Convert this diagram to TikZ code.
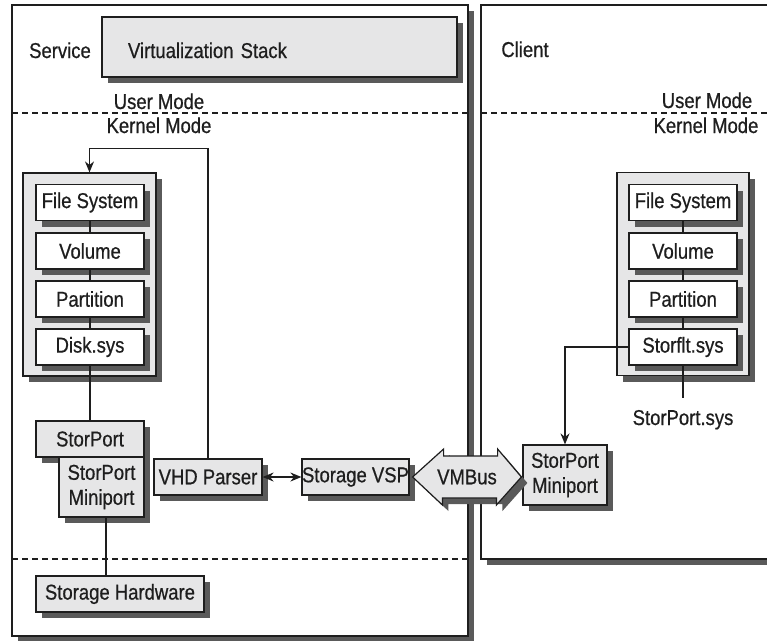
\documentclass[tikz,border=0pt]{standalone}
\usepackage{fontspec}
\setmainfont{Liberation Sans}[FakeStretch=0.86, FakeBold=0.6]
\usetikzlibrary{arrows.meta,shadows,calc}
\definecolor{panel}{HTML}{E6E6E7}
\definecolor{shade}{HTML}{5A5A5A}
\definecolor{ink}{HTML}{1E1E1E}
\begin{document}
\begin{tikzpicture}[x=1pt, y=-1pt, >={Stealth[length=11pt,width=9pt]},
    lbl/.style={font=\fontsize{21.5}{25}\selectfont, text=ink, inner sep=0pt},
    shade6/.style={general shadow={fill=shade, shadow xshift=6pt, shadow yshift=-6pt}},
    layer/.style={lbl, draw=ink, line width=1.2pt, fill=white, shade6,
        minimum width=108, minimum height=36, align=center},
    graybox/.style={layer, fill=panel},
    link/.style={draw=ink, line width=1.5pt},
    modeline/.style={draw=ink, line width=1.2pt, dash pattern=on 6pt off 4pt}]
    \clip (0,0) rectangle (767,640);
    % Service and Client partitions
    \draw[draw=ink, line width=1.2pt, fill=white, shade6] (12,5) rectangle (468,636);
    \draw[draw=ink, line width=1.2pt, fill=white, shade6] (481,5) rectangle (800,559);
    \draw[modeline] (12,113) -- (468,113);
    \draw[modeline] (481,113) -- (767,113);
    \draw[modeline] (12,559) -- (468,559);
    \node[lbl, anchor=base] (svc) at (60,58) {Service};
    \node[lbl, anchor=base] (cli) at (525,57) {Client};
    \node[lbl, anchor=base] (umode) at (159,109) {User Mode};
    \node[lbl, anchor=base] (kmode) at (159,133) {Kernel Mode};
    \node[lbl, anchor=base] (cumode) at (707,108) {User Mode};
    \node[lbl, anchor=base] (ckmode) at (706,133) {Kernel Mode};
    \node[graybox, minimum width=355, minimum height=60, text width=303,
        text height=22pt, text depth=0pt, inner xsep=26pt, align=left] (vstack) at (279.5,47) {Virtualization Stack};
    % Service storage stack
    \node[graybox, minimum width=133, minimum height=203] (lstack) at (89.5,274.5) {};
    \node[layer] (fs) at (90,202.5) {File System};
    \node[layer] (vol) at (90,251) {Volume};
    \node[layer] (part) at (90,299) {Partition};
    \node[layer] (disk) at (90,347) {Disk.sys};
    \node[graybox] (sport) at (90,439) {StorPort};
    \node[graybox, minimum width=85, minimum height=60] (smini) at (101.5,487) {StorPort\\Miniport};
    \node[graybox, minimum width=168] (hw) at (120,594) {Storage Hardware};
    \node[graybox] (vhd) at (208,477) {VHD Parser};
    \node[graybox, minimum width=107] (vsp) at (355.5,477) {Storage VSP};
    % Client storage stack
    \node[graybox, minimum width=132, minimum height=203] (rstack) at (683,274) {};
    \node[layer] (cfs) at (683,202.5) {File System};
    \node[layer] (cvol) at (683,251) {Volume};
    \node[layer] (cpart) at (683,299) {Partition};
    \node[layer] (csys) at (683,347) {Storflt.sys};
    \node[lbl, anchor=base] (spsys) at (683,425) {StorPort.sys};
    \node[graybox, minimum width=84, minimum height=60] (cmini) at (565,475) {StorPort\\Miniport};
    % connectors
    \draw[link] (fs) -- (vol) -- (part) -- (disk);
    \draw[link] (disk.south) -- (sport.north);
    \draw[link] ([xshift=4.5pt]smini.south) -- ([xshift=4.5pt]smini.south |- hw.north);
    \draw[link, ->] (vhd.north) |- ([yshift=24pt]lstack.north) -- (lstack.north);
    \draw[link, <->] (vhd.east) -- (vsp.west);
    \draw[link] (cfs) -- (cvol) -- (cpart) -- (csys);
    \draw[link] (csys.south) -- ([yshift=12pt]spsys.north);
    \draw[link, ->] (csys.west) -| (cmini.north);
    % VMBus
    \coordinate (vl) at ([xshift=3pt]vsp.east);
    \coordinate (vr) at ([xshift=-1pt]cmini.west |- vl);
    \draw[draw=ink, line width=1.2pt, fill=panel, shade6] (vl) -- ++(31,-28) -- ++(0,7)
        -- ++(54,0) -- ++(0,-7) -- (vr) -- ++(-25,28) -- ++(0,-7) -- ++(-54,0)
        -- ++(0,7) -- cycle;
    \node[lbl] (vmbus) at ($(vl)!0.5!(vr)$) {VMBus};
\end{tikzpicture}
\end{document}
